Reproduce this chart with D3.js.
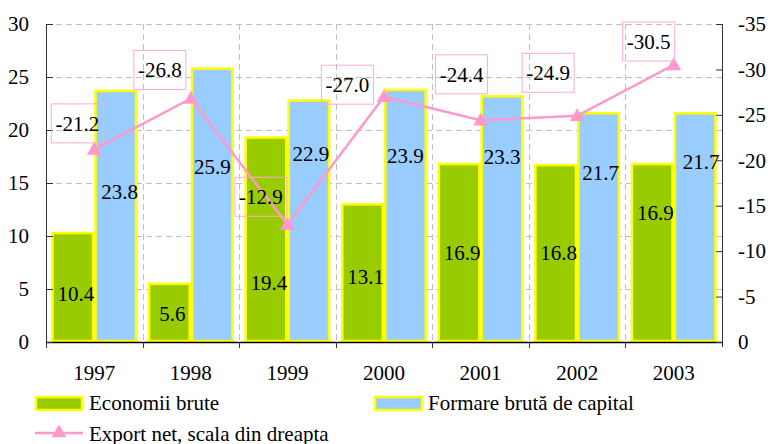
<!DOCTYPE html>
<html><head><meta charset="utf-8">
<script src="https://cdn.jsdelivr.net/npm/d3@7"></script>
</head>
<body style="margin:0;padding:0;background:#fff;">
<svg id="c" width="768" height="444" style="display:block"></svg>
<script>
// ---- data ----
const years = ["1997","1998","1999","2000","2001","2002","2003"];
const economiiBrute = [10.4, 5.6, 19.4, 13.1, 16.9, 16.8, 16.9];
const formareBruta = [23.8, 25.9, 22.9, 23.9, 23.3, 21.7, 21.7];
const exportNet = [-21.2, -26.8, -12.9, -27.0, -24.4, -24.9, -30.5];
const leftTicks = [0, 5, 10, 15, 20, 25, 30];
const rightTicks = [0, -5, -10, -15, -20, -25, -30, -35];
const seriesNames = ["Economii brute", "Formare brută de capital", "Export net, scala din dreapta"];

// ---- drawing ----
const svg = d3.select("#c");
const FONT = "Liberation Serif", FS = 21;
function txt(g, xx, yy, s, anchor, dy) {
  return g.append("text").attr("x", xx).attr("y", yy).attr("dy", dy || null)
    .attr("text-anchor", anchor || "start").attr("font-family", FONT).attr("font-size", FS)
    .attr("fill", "#000").text(s);
}
const L = 46, R = 722, T = 24, B = 342;
const x = d3.scaleBand().domain(years).range([L, R]).paddingInner(0).paddingOuter(0);
const inner = d3.scaleBand().domain([0, 1]).range([0, x.bandwidth()]).paddingOuter(0.125).paddingInner(0);
const y = d3.scaleLinear().domain([0, 30]).range([B, T]);
const y2 = d3.scaleLinear().domain([0, -35]).range([B, T]);

const green = "#99cc00", blue = "#99ccff", yellow = "#ffff00", pink = "#ff99cc";

// grid
const grid = svg.append("g").attr("stroke", "#c0c0c0").attr("stroke-dasharray", "6,4").attr("stroke-width", 1);
leftTicks.filter(d => d > 0).forEach(d => {
  grid.append("line").attr("x1", L).attr("x2", R).attr("y1", y(d) + 0.5).attr("y2", y(d) + 0.5);
});
years.slice(1).forEach(d => {
  grid.append("line").attr("x1", Math.round(x(d)) + 0.5).attr("x2", Math.round(x(d)) + 0.5).attr("y1", T).attr("y2", B);
});

// bars
const bars = [economiiBrute, formareBruta];
const colors = [green, blue];
bars.forEach((arr, s) => {
  svg.append("g").selectAll("rect").data(arr).join("rect")
    .attr("x", (d, i) => x(years[i]) + inner(s) + 1.2)
    .attr("y", d => y(d) + 1.2)
    .attr("width", inner.bandwidth() - 2.4)
    .attr("height", d => y(0) - y(d) - 2.2)
    .attr("fill", colors[s]).attr("stroke", yellow).attr("stroke-width", 2.5);
});

// bar labels (anchor values in axis units)
const greenLabelAt = [4.6, 2.7, 5.6, 6.2, 8.4, 8.4, 12.2];
const blueLabelAt = [14.2, 16.5, 17.8, 17.6, 17.5, 16.0, 17.0];
const blueLabelDx = [4, 0, 2, 0, 0, 2, 6];
const lbl = svg.append("g");
economiiBrute.forEach((d, i) => {
  txt(lbl, x(years[i]) + inner(0) + inner.bandwidth() / 2 + 3, y(greenLabelAt[i]), d.toFixed(1), "middle", "0.35em");
});
formareBruta.forEach((d, i) => {
  txt(lbl, x(years[i]) + inner(1) + inner.bandwidth() / 2 + blueLabelDx[i], y(blueLabelAt[i]), d.toFixed(1), "middle", "0.35em");
});

// axes
const ax = svg.append("g");
ax.append("line").attr("x1", L + 0.5).attr("x2", L + 0.5).attr("y1", T).attr("y2", B).attr("stroke", "#333");
ax.append("line").attr("x1", R + 0.5).attr("x2", R + 0.5).attr("y1", T).attr("y2", B + 5).attr("stroke", "#333");
ax.append("line").attr("x1", L).attr("x2", R + 1).attr("y1", B + 0.5).attr("y2", B + 0.5).attr("stroke", "#000").attr("stroke-width", 1.5);
leftTicks.forEach(d => {
  ax.append("line").attr("x1", L).attr("x2", L + 7).attr("y1", y(d) + 0.5).attr("y2", y(d) + 0.5).attr("stroke", "#333");
  txt(ax, 29, y(d), d, "end", "0.35em");
});
rightTicks.forEach(d => {
  ax.append("line").attr("x1", R - 6).attr("x2", R).attr("y1", y2(d) + 0.5).attr("y2", y2(d) + 0.5).attr("stroke", "#333");
  txt(ax, 738, y2(d), d, "start", "0.35em");
});
years.forEach(d => {
  ax.append("line").attr("x1", Math.round(x(d)) + 0.5).attr("x2", Math.round(x(d)) + 0.5).attr("y1", B).attr("y2", B + 6).attr("stroke", "#333");
  txt(ax, x(d) + x.bandwidth() / 2, 380, d, "middle");
});

// line series
const cx = i => x(years[i]) + x.bandwidth() / 2;
svg.append("path").datum(exportNet)
  .attr("d", d3.line().x((d, i) => cx(i)).y(d => y2(d)))
  .attr("fill", "none").attr("stroke", pink).attr("stroke-width", 2.5);
const tri = d3.symbol().type(d3.symbolTriangle).size(95);
svg.append("g").selectAll("path").data(exportNet).join("path")
  .attr("d", tri).attr("transform", (d, i) => `translate(${cx(i)},${y2(d) + 1})`).attr("fill", pink);

// point labels in boxes (offsets of box centre from point, px)
const boxOff = [[-17, -26], [-31, -28.5], [-26.5, -28], [-36.6, -12], [-19, -46], [-29, -43], [-25, -23.4]];
const pl = svg.append("g");
exportNet.forEach((d, i) => {
  const bx = cx(i) + boxOff[i][0], by = y2(d) + boxOff[i][1];
  pl.append("rect").attr("x", bx - 26).attr("y", by - 19.5).attr("width", 52).attr("height", 39)
    .attr("fill", "none").attr("stroke", "#ffaad4").attr("stroke-width", 1);
  txt(pl, bx, by, d.toFixed(1), "middle", "0.35em");
});

// legend
const lg = svg.append("g");
lg.append("rect").attr("x", 36).attr("y", 397).attr("width", 46).attr("height", 13).attr("fill", green).attr("stroke", yellow).attr("stroke-width", 2.5);
txt(lg, 89, 410, seriesNames[0]);
lg.append("rect").attr("x", 375).attr("y", 397).attr("width", 47).attr("height", 13).attr("fill", blue).attr("stroke", yellow).attr("stroke-width", 2.5);
txt(lg, 428, 410, seriesNames[1]);
lg.append("line").attr("x1", 35).attr("x2", 83).attr("y1", 433).attr("y2", 433).attr("stroke", pink).attr("stroke-width", 2.5);
lg.append("path").attr("d", tri).attr("transform", "translate(59,433)").attr("fill", pink);
txt(lg, 89, 441, seriesNames[2]);
</script></body></html>
